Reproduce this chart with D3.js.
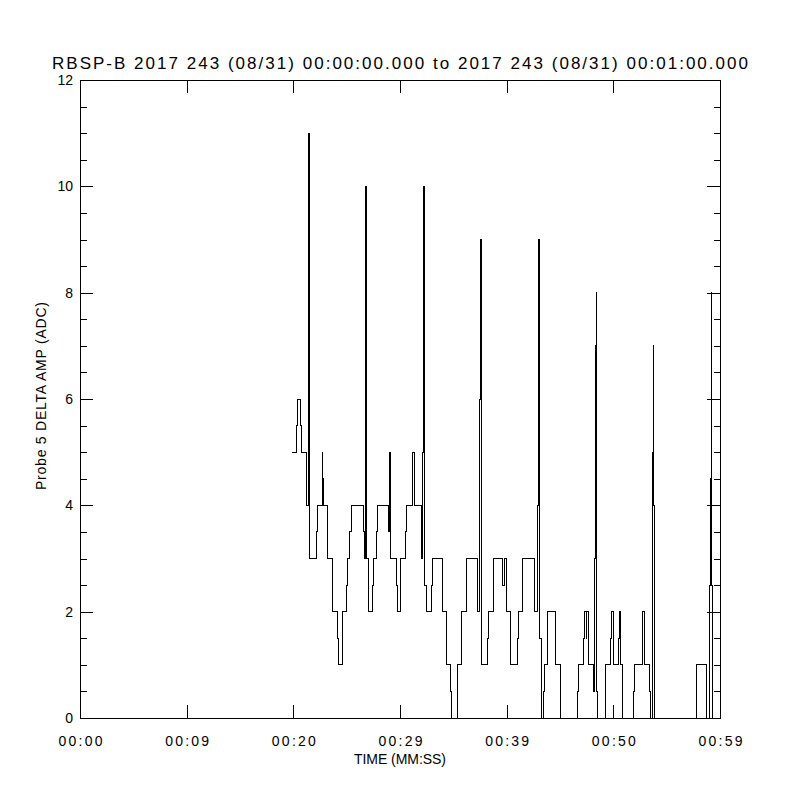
<!DOCTYPE html>
<html>
<head>
<meta charset="utf-8">
<script src="https://cdn.jsdelivr.net/npm/d3@7"></script>
<style>
  body { margin: 0; background: #fff; }
  svg text { font-family: "Liberation Sans", "DejaVu Sans", sans-serif; fill: #000; }
</style>
</head>
<body>
<svg width="800" height="800"></svg>
<script>
// step series: time (s after 00:00:00) and amplitude from that time on
var times = [19.90, 20.32, 20.41, 20.63, 20.72, 21.22, 21.38, 21.42, 21.47, 21.52,
  22.19, 22.28, 22.72, 22.75, 22.81, 23.22, 23.63, 24.16, 24.22, 24.59,
  25.00, 25.10, 25.31, 25.47, 26.56, 26.65, 26.75, 26.81, 26.87, 27.07,
  27.40, 27.50, 27.84, 27.91, 28.90, 29.02, 29.08, 29.14, 29.69, 29.78,
  30.07, 30.53, 30.63, 31.15, 31.34, 31.97, 32.13, 32.18, 32.23, 32.28,
  32.44, 32.91, 33.03, 33.97, 34.34, 34.78, 34.85, 35.41, 35.78, 36.22,
  37.25, 37.43, 37.50, 37.57, 37.66, 38.16, 38.28, 38.75, 38.81, 39.59,
  39.84, 39.97, 40.00, 40.38, 41.00, 41.09, 41.47, 42.59, 42.89, 42.94,
  43.00, 43.06, 43.28, 43.41, 43.53, 43.85, 44.60, 45.03, 46.66, 46.72,
  47.18, 47.28, 47.44, 47.53, 47.65, 48.12, 48.25, 48.31, 48.38, 48.44,
  48.53, 49.22, 49.31, 49.75, 49.81, 49.97, 50.06, 50.53, 50.60, 50.69,
  50.84, 51.87, 51.97, 52.72, 52.90, 53.37, 53.50, 53.63, 53.67, 53.72,
  53.77, 53.84, 57.82, 58.69, 59.00, 59.09, 59.16, 59.22, 59.30, 59.34];
var amps = [5, 5.5, 6, 5.5, 5, 4, 10, 11, 7.5, 3,
  3.5, 4, 5, 4.5, 4, 3, 2, 1.5, 1, 2,
  2.5, 3, 3.5, 4, 3.5, 3, 7, 10, 3, 2,
  2.5, 3, 3.5, 4, 3.5, 5, 4.5, 3, 2.5, 2,
  3, 3.5, 4, 5, 4, 3, 5, 8.5, 10, 2.5,
  2, 2.5, 3, 2, 1, 0.5, 0, 1, 2, 3,
  2, 6, 8.5, 9, 1, 1.5, 2, 2.5, 3, 2.5,
  3, 2.5, 2, 1, 1.5, 2, 3, 2, 4, 5.5,
  9, 1.5, 0, 0.5, 1, 2, 1, 0, 0.5, 1,
  1.5, 2, 1.5, 2, 1, 0.5, 3, 7, 8, 0.5,
  0, 0.5, 1, 1.5, 2, 1.5, 1, 1.5, 2, 1,
  0, 0.5, 1, 2, 1, 0.5, 0, 4, 5, 7,
  4, 0, 1, 0, 2.5, 4.5, 8, 2.5, 0, 0];

var xTicks = [0, 10, 20, 30, 40, 50, 60];
var xTickLabels = ["00:00", "00:09", "00:20", "00:29", "00:39", "00:50", "00:59"];
var yTicks = [0, 2, 4, 6, 8, 10, 12];
var yMinorTicks = d3.range(0, 12.01, 0.5);

var titleText = "RBSP-B 2017 243 (08/31) 00:00:00.000 to 2017 243 (08/31) 00:01:00.000";
var xLabel = "TIME (MM:SS)";
var yLabel = "Probe 5 DELTA AMP (ADC)";

var plotL = 80, plotR = 720, plotT = 80, plotB = 718;

var svg = d3.select('svg');

var x = d3.scaleLinear().domain([0, 60]).range([plotL, plotR]);
var y = d3.scaleLinear().domain([0, 12]).range([plotB, plotT]);

var series = times.map(function (t, i) { return { t: t, v: amps[i] }; });

// minor ticks first, major on top
svg.append('g')
    .attr('transform', 'translate(' + plotL + ',0)')
    .call(d3.axisLeft(y).tickValues(yMinorTicks).tickSize(-6.5).tickFormat(''));
svg.append('g')
    .attr('transform', 'translate(' + plotR + ',0)')
    .call(d3.axisRight(y).tickValues(yMinorTicks).tickSize(-6.5).tickFormat(''));

svg.append('g')
    .attr('transform', 'translate(' + plotL + ',0)')
    .call(d3.axisLeft(y).tickValues(yTicks).tickSize(-13).tickPadding(7).tickFormat(d3.format('d')));
svg.append('g')
    .attr('transform', 'translate(' + plotR + ',0)')
    .call(d3.axisRight(y).tickValues(yTicks).tickSize(-13).tickFormat(''));

var xBottom = svg.append('g')
    .attr('transform', 'translate(0,' + plotB + ')')
    .call(d3.axisBottom(x).tickValues(xTicks).tickSize(-13).tickPadding(18)
        .tickFormat(function (d, i) { return xTickLabels[i]; }));
svg.append('g')
    .attr('transform', 'translate(0,' + plotT + ')')
    .call(d3.axisTop(x).tickValues(xTicks).tickSize(-13).tickFormat(''));

svg.selectAll('.domain').remove();
svg.selectAll('.tick line').attr('stroke', '#000').attr('shape-rendering', 'crispEdges');
svg.selectAll('.tick text').attr('font-size', 14).attr('fill', '#000');
xBottom.selectAll('.tick text').attr('textLength', 44).attr('lengthAdjust', 'spacing');

// plot frame
svg.append('rect')
    .attr('x', plotL).attr('y', plotT)
    .attr('width', plotR - plotL).attr('height', plotB - plotT)
    .attr('fill', 'none').attr('stroke', '#000').attr('stroke-width', 1)
    .attr('shape-rendering', 'crispEdges');

// data trace
var line = d3.line()
    .x(function (d) { return x(d.t); })
    .y(function (d) { return y(d.v); })
    .curve(d3.curveStepAfter);

svg.append('path')
    .datum(series)
    .attr('fill', 'none')
    .attr('stroke', '#000')
    .attr('stroke-width', 1)
    .attr('shape-rendering', 'crispEdges')
    .attr('d', line);

// titles
svg.append('text')
    .attr('x', 400).attr('y', 69)
    .attr('text-anchor', 'middle')
    .attr('font-size', 17)
    .attr('textLength', 696).attr('lengthAdjust', 'spacing')
    .text(titleText);

svg.append('text')
    .attr('x', 400).attr('y', 764)
    .attr('text-anchor', 'middle')
    .attr('font-size', 14)
    .attr('textLength', 92).attr('lengthAdjust', 'spacing')
    .text(xLabel);

svg.append('text')
    .attr('transform', 'translate(46,396) rotate(-90)')
    .attr('text-anchor', 'middle')
    .attr('font-size', 14)
    .attr('textLength', 188).attr('lengthAdjust', 'spacing')
    .text(yLabel);
</script>
</body>
</html>
